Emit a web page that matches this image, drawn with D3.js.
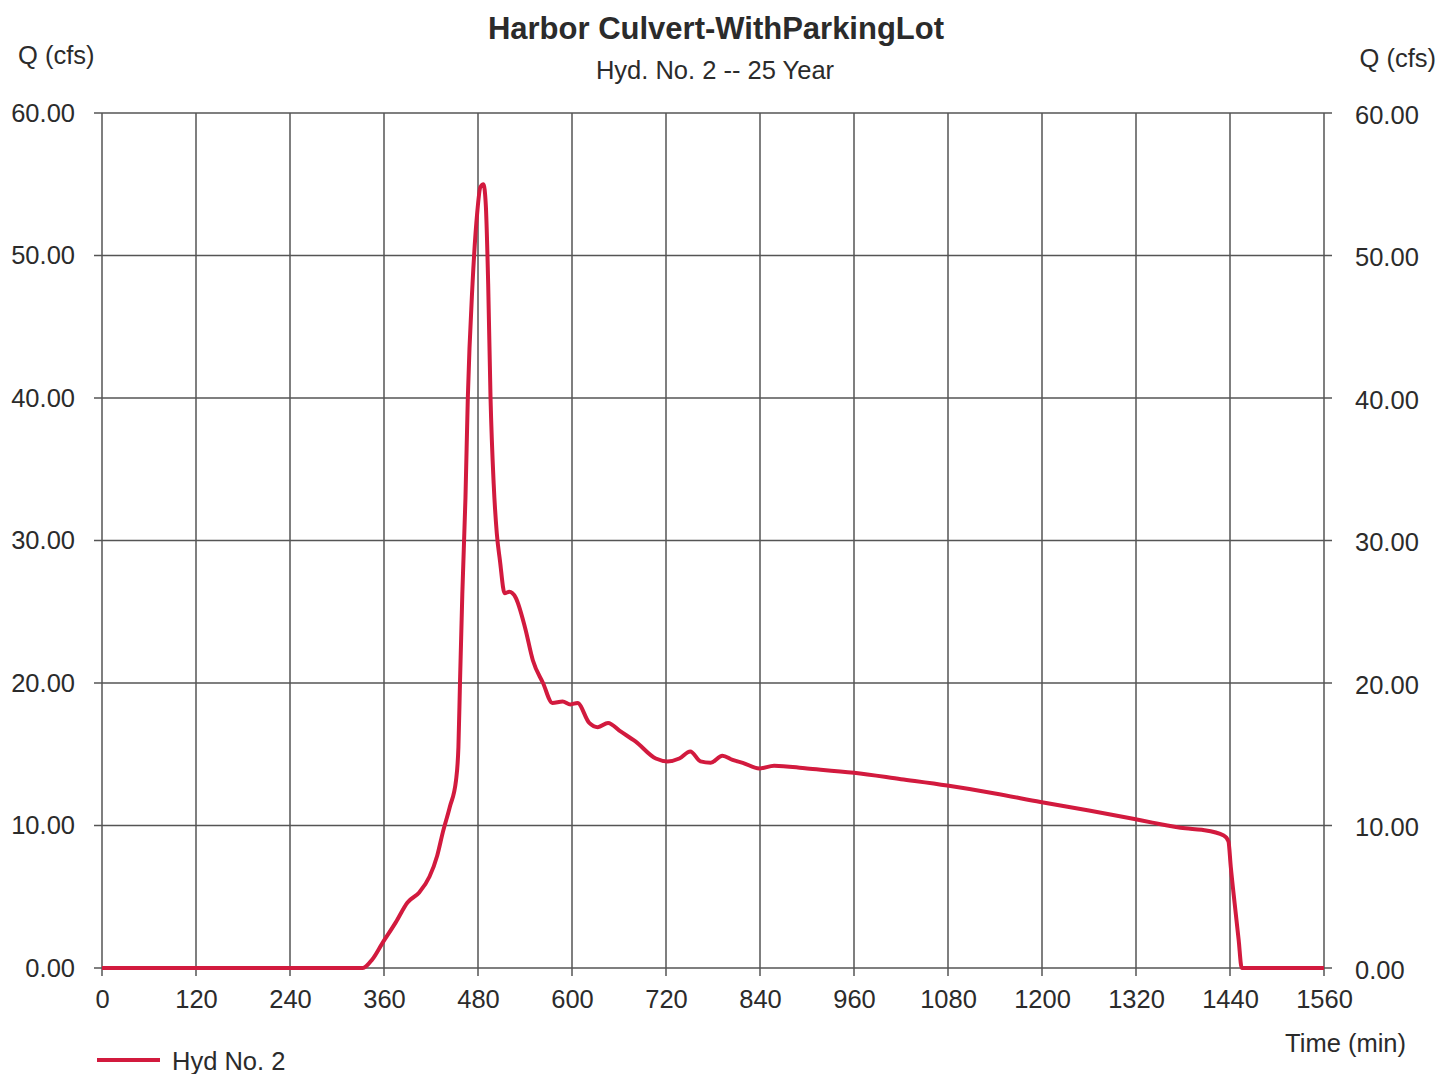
<!DOCTYPE html>
<html><head><meta charset="utf-8">
<script src="https://cdn.jsdelivr.net/npm/d3@7"></script>
<style>body{margin:0;background:#fff}svg{display:block}text{font-family:"Liberation Sans",Arial,sans-serif;fill:#2b2b2b}</style>
</head><body><svg id="c" width="1439" height="1074"></svg>
<script>
const titleText = "Harbor Culvert-WithParkingLot";
const subtitleText = "Hyd. No. 2 -- 25 Year";
const seriesName = "Hyd No. 2";
const xTicks = [0,120,240,360,480,600,720,840,960,1080,1200,1320,1440,1560];
const yTicks = [0,10,20,30,40,50,60];
const timeMin = [0,120,240,333,345,358,375,390,405,418,428,435,444,452,455,457,460,464,467,473,479,483,487,490,493,496,500,504,508,514,520,528,540,550,563,575,588,598,607,622,633,646,662,681,707,722,737,751,764,777,792,805,818,839,858,900,960,1020,1079,1140,1198,1260,1318,1341,1383,1404,1432,1438,1441,1446,1451,1455,1480,1520,1560];
const flowCfs = [0,0,0,0,0.6,1.75,3.2,4.6,5.3,6.4,7.9,9.5,11.3,13.2,15.5,20,26.3,33,40,48,53,54.8,55,53.5,48,40,34,30.5,28.6,26.3,26.4,26.0,23.9,21.6,20.0,18.6,18.7,18.5,18.6,17.2,16.9,17.2,16.6,15.9,14.7,14.5,14.7,15.2,14.5,14.4,14.9,14.6,14.4,14.0,14.2,14.0,13.7,13.25,12.8,12.25,11.65,11.05,10.45,10.2,9.8,9.7,9.3,8.9,7.1,4.5,2.0,0,0,0,0];

const svg = d3.select("#c");
const L = 102, R = 1324, T = 113, B = 968;
const x = d3.scaleLinear().domain([0,1560]).range([L,R]);
const y = d3.scaleLinear().domain([0,60]).range([B,T]);
const ext = 8;
const FS = 25.5;

// grid
const g = svg.append("g").attr("stroke","#555").attr("stroke-width",1.5);
g.selectAll("line.v").data(xTicks).join("line")
  .attr("x1",d=>x(d)).attr("x2",d=>x(d)).attr("y1",T).attr("y2",B+ext);
g.selectAll("line.h").data(yTicks).join("line")
  .attr("x1",L-ext).attr("x2",R+ext).attr("y1",d=>y(d)).attr("y2",d=>y(d));

const fmt = d3.format(".2f");
const axL = svg.append("g").attr("transform",`translate(${L-24},0)`)
  .call(d3.axisLeft(y).tickValues(yTicks).tickFormat(fmt).tickSize(0));
const axR = svg.append("g").attr("transform",`translate(${R+28},2)`)
  .call(d3.axisRight(y).tickValues(yTicks).tickFormat(fmt).tickSize(0));
const axB = svg.append("g").attr("transform",`translate(0,${B+14})`)
  .call(d3.axisBottom(x).tickValues(xTicks).tickFormat(d3.format("d")).tickSize(0));
[axL,axR,axB].forEach(a=>{a.select(".domain").remove();a.selectAll("text").attr("font-size",FS).attr("fill","#2b2b2b").attr("font-family","Liberation Sans, Arial, sans-serif");});
axB.selectAll("text").attr("dy","0.9em");

// line
const line = d3.line().x((d,i)=>x(timeMin[i])).y(d=>y(d)).curve(d3.curveMonotoneX);
svg.append("path").datum(flowCfs).attr("d",line).attr("fill","none")
  .attr("stroke","#d21a3e").attr("stroke-width",4).attr("stroke-linejoin","round");

// titles
svg.append("text").attr("x",716).attr("y",39).attr("text-anchor","middle").attr("font-size",31).attr("font-weight","bold").text(titleText);
svg.append("text").attr("x",715).attr("y",79).attr("text-anchor","middle").attr("font-size",FS).text(subtitleText);
svg.append("text").attr("x",18).attr("y",64).attr("font-size",FS).text("Q (cfs)");
svg.append("text").attr("x",1436).attr("y",67).attr("text-anchor","end").attr("font-size",FS).text("Q (cfs)");
svg.append("text").attr("x",1406).attr("y",1052).attr("text-anchor","end").attr("font-size",FS).text("Time (min)");

// legend
svg.append("line").attr("x1",97).attr("x2",160).attr("y1",1060).attr("y2",1060).attr("stroke","#d21a3e").attr("stroke-width",4);
svg.append("text").attr("x",172).attr("y",1070).attr("font-size",FS).text(seriesName);
</script></body></html>
